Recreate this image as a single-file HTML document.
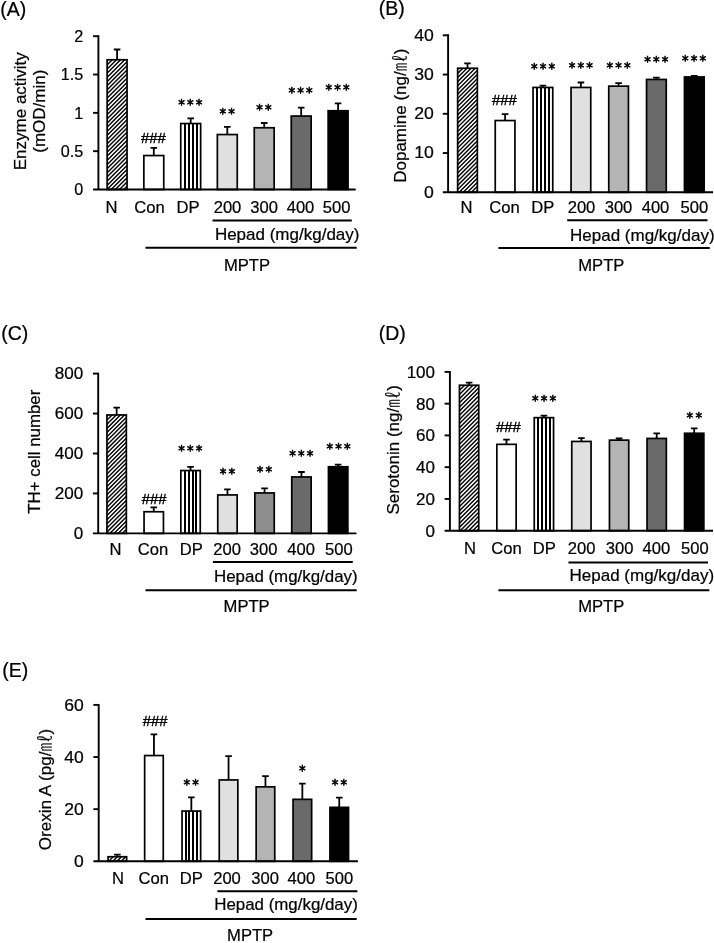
<!DOCTYPE html>
<html lang="en"><head><meta charset="utf-8"><title>Figure</title>
<style>
html,body{margin:0;padding:0;background:#fff;}
svg{display:block;will-change:transform;}
text{font-family:"Liberation Sans","Noto Sans CJK KR",sans-serif;fill:#000;stroke:#000;stroke-width:0.22px;}
tspan.ml{font-weight:300;}
text.hs{stroke-width:0.4px;}
text.st{font-family:"DejaVu Sans","Liberation Sans",sans-serif;stroke-width:0.6px;}
</style></head>
<body>
<svg width="714" height="943" viewBox="0 0 714 943">
<rect width="714" height="943" fill="#fff"/>
<g>
<path d="M117.10 59.90V49.50M113.80 49.50H120.40" stroke="#000" stroke-width="1.8" fill="none"/>
<clipPath id="c1"><rect x="107.15" y="59.75" width="19.90" height="129.75"/></clipPath><g clip-path="url(#c1)"><rect x="107.15" y="59.75" width="19.90" height="129.75" fill="#fff"/><path d="M106.15 61.75L109.15 58.75M106.15 65.90L113.30 58.75M106.15 70.05L117.45 58.75M106.15 74.20L121.60 58.75M106.15 78.35L125.75 58.75M106.15 82.50L129.90 58.75M106.15 86.65L134.05 58.75M106.15 90.80L138.20 58.75M106.15 94.95L142.35 58.75M106.15 99.10L146.50 58.75M106.15 103.25L150.65 58.75M106.15 107.40L154.80 58.75M106.15 111.55L158.95 58.75M106.15 115.70L163.10 58.75M106.15 119.85L167.25 58.75M106.15 124.00L171.40 58.75M106.15 128.15L175.55 58.75M106.15 132.30L179.70 58.75M106.15 136.45L183.85 58.75M106.15 140.60L188.00 58.75M106.15 144.75L192.15 58.75M106.15 148.90L196.30 58.75M106.15 153.05L200.45 58.75M106.15 157.20L204.60 58.75M106.15 161.35L208.75 58.75M106.15 165.50L212.90 58.75M106.15 169.65L217.05 58.75M106.15 173.80L221.20 58.75M106.15 177.95L225.35 58.75M106.15 182.10L229.50 58.75M106.15 186.25L233.65 58.75M106.15 190.40L237.80 58.75M106.15 194.55L241.95 58.75M106.15 198.70L246.10 58.75M106.15 202.85L250.25 58.75M106.15 207.00L254.40 58.75M106.15 211.15L258.55 58.75" stroke="#000" stroke-width="1.42" fill="none"/></g>
<rect x="107.15" y="59.75" width="19.90" height="129.75" fill="none" stroke="#000" stroke-width="1.7"/>
<path d="M153.80 155.70V147.90M150.50 147.90H157.10" stroke="#000" stroke-width="1.8" fill="none"/>
<rect x="143.85" y="155.55" width="19.90" height="33.95" fill="#ffffff" stroke="#000" stroke-width="1.7"/>
<path d="M190.70 123.70V118.40M187.40 118.40H194.00" stroke="#000" stroke-width="1.8" fill="none"/>
<clipPath id="c2"><rect x="180.75" y="123.55" width="19.90" height="65.95"/></clipPath><g clip-path="url(#c2)"><rect x="180.75" y="123.55" width="19.90" height="65.95" fill="#fff"/><path d="M184 123.55h2.0v65.95h-2.0zM188 123.55h2.0v65.95h-2.0zM192 123.55h2.0v65.95h-2.0zM196 123.55h2.0v65.95h-2.0z" fill="#000"/></g>
<rect x="180.75" y="123.55" width="19.90" height="65.95" fill="none" stroke="#000" stroke-width="1.7"/>
<path d="M227.30 134.70V126.90M224.00 126.90H230.60" stroke="#000" stroke-width="1.8" fill="none"/>
<rect x="217.35" y="134.55" width="19.90" height="54.95" fill="#e0e0e0" stroke="#000" stroke-width="1.7"/>
<path d="M264.20 127.90V123.00M260.90 123.00H267.50" stroke="#000" stroke-width="1.8" fill="none"/>
<rect x="254.25" y="127.75" width="19.90" height="61.75" fill="#b4b4b4" stroke="#000" stroke-width="1.7"/>
<path d="M301.20 116.20V107.70M297.90 107.70H304.50" stroke="#000" stroke-width="1.8" fill="none"/>
<rect x="291.25" y="116.05" width="19.90" height="73.45" fill="#6a6a6a" stroke="#000" stroke-width="1.7"/>
<path d="M338.10 110.90V103.30M334.80 103.30H341.40" stroke="#000" stroke-width="1.8" fill="none"/>
<rect x="328.15" y="110.75" width="19.90" height="78.75" fill="#000000" stroke="#000" stroke-width="1.7"/>
<path d="M98.40 35.25V189.50M93.10 189.50H355.70" stroke="#000" stroke-width="1.9" fill="none"/>
<text transform="translate(83.30 195.20) scale(0.94 1)" font-size="17.2" text-anchor="end">0</text>
<path d="M93.10 151.18H98.40" stroke="#000" stroke-width="1.9"/>
<text transform="translate(83.30 156.88) scale(0.94 1)" font-size="17.2" text-anchor="end">0.5</text>
<path d="M93.10 112.85H98.40" stroke="#000" stroke-width="1.9"/>
<text transform="translate(83.30 118.55) scale(0.94 1)" font-size="17.2" text-anchor="end">1</text>
<path d="M93.10 74.52H98.40" stroke="#000" stroke-width="1.9"/>
<text transform="translate(83.30 80.22) scale(0.94 1)" font-size="17.2" text-anchor="end">1.5</text>
<path d="M93.10 36.20H98.40" stroke="#000" stroke-width="1.9"/>
<text transform="translate(83.30 41.90) scale(0.94 1)" font-size="17.2" text-anchor="end">2</text>
<text transform="translate(25.50 111.20) rotate(-90)" font-size="17.0" text-anchor="middle">Enzyme activity</text>
<text transform="translate(44.70 111.20) rotate(-90)" font-size="17.0" text-anchor="middle">(mOD/min)</text>
<text x="153.30" y="143.00" class="hs" font-size="15" text-anchor="middle" textLength="24.8" lengthAdjust="spacingAndGlyphs">###</text>
<text class="st" x="178.25 187.00 195.75" y="109.08" font-size="13.2">***</text>
<text class="st" x="219.53 228.28" y="118.28" font-size="13.2">**</text>
<text class="st" x="256.32 265.07" y="113.58" font-size="13.2">**</text>
<text class="st" x="288.55 297.30 306.05" y="97.38" font-size="13.2">***</text>
<text class="st" x="325.55 334.30 343.05" y="94.08" font-size="13.2">***</text>
<text x="111.60" y="212.80" font-size="16.6" text-anchor="middle">N</text>
<text x="149.60" y="212.80" font-size="16.6" text-anchor="middle">Con</text>
<text x="188.00" y="212.80" font-size="16.6" text-anchor="middle">DP</text>
<text x="227.50" y="212.80" font-size="16.6" text-anchor="middle">200</text>
<text x="264.10" y="212.80" font-size="16.6" text-anchor="middle">300</text>
<text x="300.50" y="212.80" font-size="16.6" text-anchor="middle">400</text>
<text x="336.60" y="212.80" font-size="16.6" text-anchor="middle">500</text>
<path d="M212.50 220.40H351.80" stroke="#000" stroke-width="2"/>
<text x="214.90" y="240.00" font-size="17.0">Hepad (mg/kg/day)</text>
<path d="M145.50 247.80H356.70" stroke="#000" stroke-width="2"/>
<text x="223.90" y="271.20" font-size="16.6">MPTP</text>
<text x="0.20" y="15.60" font-size="19.5">(A)</text>
</g>
<g>
<path d="M467.50 68.40V63.30M464.20 63.30H470.80" stroke="#000" stroke-width="1.8" fill="none"/>
<clipPath id="c3"><rect x="457.65" y="68.25" width="19.70" height="124.05"/></clipPath><g clip-path="url(#c3)"><rect x="457.65" y="68.25" width="19.70" height="124.05" fill="#fff"/><path d="M456.65 70.25L459.65 67.25M456.65 74.40L463.80 67.25M456.65 78.55L467.95 67.25M456.65 82.70L472.10 67.25M456.65 86.85L476.25 67.25M456.65 91.00L480.40 67.25M456.65 95.15L484.55 67.25M456.65 99.30L488.70 67.25M456.65 103.45L492.85 67.25M456.65 107.60L497.00 67.25M456.65 111.75L501.15 67.25M456.65 115.90L505.30 67.25M456.65 120.05L509.45 67.25M456.65 124.20L513.60 67.25M456.65 128.35L517.75 67.25M456.65 132.50L521.90 67.25M456.65 136.65L526.05 67.25M456.65 140.80L530.20 67.25M456.65 144.95L534.35 67.25M456.65 149.10L538.50 67.25M456.65 153.25L542.65 67.25M456.65 157.40L546.80 67.25M456.65 161.55L550.95 67.25M456.65 165.70L555.10 67.25M456.65 169.85L559.25 67.25M456.65 174.00L563.40 67.25M456.65 178.15L567.55 67.25M456.65 182.30L571.70 67.25M456.65 186.45L575.85 67.25M456.65 190.60L580.00 67.25M456.65 194.75L584.15 67.25M456.65 198.90L588.30 67.25M456.65 203.05L592.45 67.25M456.65 207.20L596.60 67.25M456.65 211.35L600.75 67.25M456.65 215.50L604.90 67.25" stroke="#000" stroke-width="1.42" fill="none"/></g>
<rect x="457.65" y="68.25" width="19.70" height="124.05" fill="none" stroke="#000" stroke-width="1.7"/>
<path d="M505.10 120.70V114.10M501.80 114.10H508.40" stroke="#000" stroke-width="1.8" fill="none"/>
<rect x="495.25" y="120.55" width="19.70" height="71.75" fill="#ffffff" stroke="#000" stroke-width="1.7"/>
<path d="M542.90 87.60V85.70M539.60 85.70H546.20" stroke="#000" stroke-width="1.8" fill="none"/>
<clipPath id="c4"><rect x="533.05" y="87.45" width="19.70" height="104.85"/></clipPath><g clip-path="url(#c4)"><rect x="533.05" y="87.45" width="19.70" height="104.85" fill="#fff"/><path d="M536 87.45h2.0v104.85h-2.0zM540 87.45h2.0v104.85h-2.0zM544 87.45h2.0v104.85h-2.0zM548 87.45h2.0v104.85h-2.0z" fill="#000"/></g>
<rect x="533.05" y="87.45" width="19.70" height="104.85" fill="none" stroke="#000" stroke-width="1.7"/>
<path d="M580.90 87.60V82.50M577.60 82.50H584.20" stroke="#000" stroke-width="1.8" fill="none"/>
<rect x="571.05" y="87.45" width="19.70" height="104.85" fill="#e0e0e0" stroke="#000" stroke-width="1.7"/>
<path d="M618.60 86.30V83.20M615.30 83.20H621.90" stroke="#000" stroke-width="1.8" fill="none"/>
<rect x="608.75" y="86.15" width="19.70" height="106.15" fill="#b4b4b4" stroke="#000" stroke-width="1.7"/>
<path d="M656.40 79.60V77.70M653.10 77.70H659.70" stroke="#000" stroke-width="1.8" fill="none"/>
<rect x="646.55" y="79.45" width="19.70" height="112.85" fill="#6a6a6a" stroke="#000" stroke-width="1.7"/>
<path d="M694.30 77.10V75.80M691.00 75.80H697.60" stroke="#000" stroke-width="1.8" fill="none"/>
<rect x="684.45" y="76.95" width="19.70" height="115.35" fill="#000000" stroke="#000" stroke-width="1.7"/>
<path d="M448.10 34.35V192.30M442.80 192.30H713.00" stroke="#000" stroke-width="1.9" fill="none"/>
<text transform="translate(433.90 197.60) scale(1.03 1)" font-size="17.1" text-anchor="end">0</text>
<path d="M442.80 153.05H448.10" stroke="#000" stroke-width="1.9"/>
<text transform="translate(433.90 158.35) scale(1.03 1)" font-size="17.1" text-anchor="end">10</text>
<path d="M442.80 113.80H448.10" stroke="#000" stroke-width="1.9"/>
<text transform="translate(433.90 119.10) scale(1.03 1)" font-size="17.1" text-anchor="end">20</text>
<path d="M442.80 74.55H448.10" stroke="#000" stroke-width="1.9"/>
<text transform="translate(433.90 79.85) scale(1.03 1)" font-size="17.1" text-anchor="end">30</text>
<path d="M442.80 35.30H448.10" stroke="#000" stroke-width="1.9"/>
<text transform="translate(433.90 40.60) scale(1.03 1)" font-size="17.1" text-anchor="end">40</text>
<text transform="translate(405.70 115.70) rotate(-90)" font-size="17.0" text-anchor="middle">Dopamine (ng/<tspan class="ml">㎖</tspan>)</text>
<text x="504.50" y="104.90" class="hs" font-size="15" text-anchor="middle" textLength="24.8" lengthAdjust="spacingAndGlyphs">###</text>
<text class="st" x="530.95 539.70 548.45" y="73.28" font-size="13.2">***</text>
<text class="st" x="568.65 577.40 586.15" y="71.98" font-size="13.2">***</text>
<text class="st" x="606.45 615.20 623.95" y="71.98" font-size="13.2">***</text>
<text class="st" x="644.25 653.00 661.75" y="65.78" font-size="13.2">***</text>
<text class="st" x="681.95 690.70 699.45" y="64.58" font-size="13.2">***</text>
<text x="466.60" y="213.20" font-size="16.6" text-anchor="middle">N</text>
<text x="504.50" y="213.20" font-size="16.6" text-anchor="middle">Con</text>
<text x="542.80" y="213.20" font-size="16.6" text-anchor="middle">DP</text>
<text x="581.50" y="213.20" font-size="16.6" text-anchor="middle">200</text>
<text x="618.50" y="213.20" font-size="16.6" text-anchor="middle">300</text>
<text x="655.50" y="213.20" font-size="16.6" text-anchor="middle">400</text>
<text x="694.30" y="213.20" font-size="16.6" text-anchor="middle">500</text>
<path d="M567.20 220.20H707.50" stroke="#000" stroke-width="2"/>
<text x="570.00" y="240.50" font-size="17.0">Hepad (mg/kg/day)</text>
<path d="M498.40 248.10H709.80" stroke="#000" stroke-width="2"/>
<text x="578.30" y="271.20" font-size="16.6">MPTP</text>
<text x="378.80" y="15.40" font-size="19.5">(B)</text>
</g>
<g>
<path d="M116.65 415.10V407.60M113.35 407.60H119.95" stroke="#000" stroke-width="1.8" fill="none"/>
<clipPath id="c5"><rect x="106.95" y="414.95" width="19.40" height="118.45"/></clipPath><g clip-path="url(#c5)"><rect x="106.95" y="414.95" width="19.40" height="118.45" fill="#fff"/><path d="M105.95 416.95L108.95 413.95M105.95 421.10L113.10 413.95M105.95 425.25L117.25 413.95M105.95 429.40L121.40 413.95M105.95 433.55L125.55 413.95M105.95 437.70L129.70 413.95M105.95 441.85L133.85 413.95M105.95 446.00L138.00 413.95M105.95 450.15L142.15 413.95M105.95 454.30L146.30 413.95M105.95 458.45L150.45 413.95M105.95 462.60L154.60 413.95M105.95 466.75L158.75 413.95M105.95 470.90L162.90 413.95M105.95 475.05L167.05 413.95M105.95 479.20L171.20 413.95M105.95 483.35L175.35 413.95M105.95 487.50L179.50 413.95M105.95 491.65L183.65 413.95M105.95 495.80L187.80 413.95M105.95 499.95L191.95 413.95M105.95 504.10L196.10 413.95M105.95 508.25L200.25 413.95M105.95 512.40L204.40 413.95M105.95 516.55L208.55 413.95M105.95 520.70L212.70 413.95M105.95 524.85L216.85 413.95M105.95 529.00L221.00 413.95M105.95 533.15L225.15 413.95M105.95 537.30L229.30 413.95M105.95 541.45L233.45 413.95M105.95 545.60L237.60 413.95M105.95 549.75L241.75 413.95M105.95 553.90L245.90 413.95" stroke="#000" stroke-width="1.42" fill="none"/></g>
<rect x="106.95" y="414.95" width="19.40" height="118.45" fill="none" stroke="#000" stroke-width="1.7"/>
<path d="M153.75 511.90V507.30M150.45 507.30H157.05" stroke="#000" stroke-width="1.8" fill="none"/>
<rect x="144.05" y="511.75" width="19.40" height="21.65" fill="#ffffff" stroke="#000" stroke-width="1.7"/>
<path d="M190.55 470.70V466.80M187.25 466.80H193.85" stroke="#000" stroke-width="1.8" fill="none"/>
<clipPath id="c6"><rect x="180.85" y="470.55" width="19.40" height="62.85"/></clipPath><g clip-path="url(#c6)"><rect x="180.85" y="470.55" width="19.40" height="62.85" fill="#fff"/><path d="M184 470.55h2.0v62.85h-2.0zM188 470.55h2.0v62.85h-2.0zM192 470.55h2.0v62.85h-2.0zM195 470.55h2.0v62.85h-2.0z" fill="#000"/></g>
<rect x="180.85" y="470.55" width="19.40" height="62.85" fill="none" stroke="#000" stroke-width="1.7"/>
<path d="M227.45 495.10V489.30M224.15 489.30H230.75" stroke="#000" stroke-width="1.8" fill="none"/>
<rect x="217.75" y="494.95" width="19.40" height="38.45" fill="#e0e0e0" stroke="#000" stroke-width="1.7"/>
<path d="M264.55 493.10V488.30M261.25 488.30H267.85" stroke="#000" stroke-width="1.8" fill="none"/>
<rect x="254.85" y="492.95" width="19.40" height="40.45" fill="#8e8e8e" stroke="#000" stroke-width="1.7"/>
<path d="M301.45 477.10V472.00M298.15 472.00H304.75" stroke="#000" stroke-width="1.8" fill="none"/>
<rect x="291.75" y="476.95" width="19.40" height="56.45" fill="#6a6a6a" stroke="#000" stroke-width="1.7"/>
<path d="M338.15 466.90V464.60M334.85 464.60H341.45" stroke="#000" stroke-width="1.8" fill="none"/>
<rect x="328.45" y="466.75" width="19.40" height="66.65" fill="#000000" stroke="#000" stroke-width="1.7"/>
<path d="M98.20 372.65V533.40M92.90 533.40H356.50" stroke="#000" stroke-width="1.9" fill="none"/>
<text x="83.20" y="539.20" font-size="17.1" text-anchor="end">0</text>
<path d="M92.90 493.45H98.20" stroke="#000" stroke-width="1.9"/>
<text x="83.20" y="499.25" font-size="17.1" text-anchor="end">200</text>
<path d="M92.90 453.50H98.20" stroke="#000" stroke-width="1.9"/>
<text x="83.20" y="459.30" font-size="17.1" text-anchor="end">400</text>
<path d="M92.90 413.55H98.20" stroke="#000" stroke-width="1.9"/>
<text x="83.20" y="419.35" font-size="17.1" text-anchor="end">600</text>
<path d="M92.90 373.60H98.20" stroke="#000" stroke-width="1.9"/>
<text x="83.20" y="379.40" font-size="17.1" text-anchor="end">800</text>
<text transform="translate(40.30 451.70) rotate(-90)" font-size="16.85" text-anchor="middle">TH+ cell number</text>
<text x="154.20" y="504.00" class="hs" font-size="15" text-anchor="middle" textLength="24.8" lengthAdjust="spacingAndGlyphs">###</text>
<text class="st" x="178.25 187.00 195.75" y="455.38" font-size="13.2">***</text>
<text class="st" x="219.63 228.38" y="477.78" font-size="13.2">**</text>
<text class="st" x="256.82 265.57" y="475.78" font-size="13.2">**</text>
<text class="st" x="289.15 297.90 306.65" y="460.28" font-size="13.2">***</text>
<text class="st" x="326.45 335.20 343.95" y="453.38" font-size="13.2">***</text>
<text x="115.50" y="554.50" font-size="16.6" text-anchor="middle">N</text>
<text x="153.00" y="554.50" font-size="16.6" text-anchor="middle">Con</text>
<text x="191.40" y="554.50" font-size="16.6" text-anchor="middle">DP</text>
<text x="227.10" y="554.50" font-size="16.6" text-anchor="middle">200</text>
<text x="263.70" y="554.50" font-size="16.6" text-anchor="middle">300</text>
<text x="301.10" y="554.50" font-size="16.6" text-anchor="middle">400</text>
<text x="338.80" y="554.50" font-size="16.6" text-anchor="middle">500</text>
<path d="M212.90 562.10H352.80" stroke="#000" stroke-width="2"/>
<text x="214.00" y="581.70" font-size="16.9">Hepad (mg/kg/day)</text>
<path d="M145.50 590.20H356.70" stroke="#000" stroke-width="2"/>
<text x="223.60" y="612.10" font-size="16.6">MPTP</text>
<text x="1.20" y="339.70" font-size="19.5">(C)</text>
</g>
<g>
<path d="M469.10 385.40V382.60M465.80 382.60H472.40" stroke="#000" stroke-width="1.8" fill="none"/>
<clipPath id="c7"><rect x="459.45" y="385.25" width="19.30" height="145.45"/></clipPath><g clip-path="url(#c7)"><rect x="459.45" y="385.25" width="19.30" height="145.45" fill="#fff"/><path d="M458.45 387.25L461.45 384.25M458.45 391.40L465.60 384.25M458.45 395.55L469.75 384.25M458.45 399.70L473.90 384.25M458.45 403.85L478.05 384.25M458.45 408.00L482.20 384.25M458.45 412.15L486.35 384.25M458.45 416.30L490.50 384.25M458.45 420.45L494.65 384.25M458.45 424.60L498.80 384.25M458.45 428.75L502.95 384.25M458.45 432.90L507.10 384.25M458.45 437.05L511.25 384.25M458.45 441.20L515.40 384.25M458.45 445.35L519.55 384.25M458.45 449.50L523.70 384.25M458.45 453.65L527.85 384.25M458.45 457.80L532.00 384.25M458.45 461.95L536.15 384.25M458.45 466.10L540.30 384.25M458.45 470.25L544.45 384.25M458.45 474.40L548.60 384.25M458.45 478.55L552.75 384.25M458.45 482.70L556.90 384.25M458.45 486.85L561.05 384.25M458.45 491.00L565.20 384.25M458.45 495.15L569.35 384.25M458.45 499.30L573.50 384.25M458.45 503.45L577.65 384.25M458.45 507.60L581.80 384.25M458.45 511.75L585.95 384.25M458.45 515.90L590.10 384.25M458.45 520.05L594.25 384.25M458.45 524.20L598.40 384.25M458.45 528.35L602.55 384.25M458.45 532.50L606.70 384.25M458.45 536.65L610.85 384.25M458.45 540.80L615.00 384.25M458.45 544.95L619.15 384.25M458.45 549.10L623.30 384.25M458.45 553.25L627.45 384.25" stroke="#000" stroke-width="1.42" fill="none"/></g>
<rect x="459.45" y="385.25" width="19.30" height="145.45" fill="none" stroke="#000" stroke-width="1.7"/>
<path d="M506.50 444.50V439.60M503.20 439.60H509.80" stroke="#000" stroke-width="1.8" fill="none"/>
<rect x="496.85" y="444.35" width="19.30" height="86.35" fill="#ffffff" stroke="#000" stroke-width="1.7"/>
<path d="M543.90 417.80V415.70M540.60 415.70H547.20" stroke="#000" stroke-width="1.8" fill="none"/>
<clipPath id="c8"><rect x="534.25" y="417.65" width="19.30" height="113.05"/></clipPath><g clip-path="url(#c8)"><rect x="534.25" y="417.65" width="19.30" height="113.05" fill="#fff"/><path d="M537 417.65h2.0v113.05h-2.0zM541 417.65h2.0v113.05h-2.0zM545 417.65h2.0v113.05h-2.0zM549 417.65h2.0v113.05h-2.0z" fill="#000"/></g>
<rect x="534.25" y="417.65" width="19.30" height="113.05" fill="none" stroke="#000" stroke-width="1.7"/>
<path d="M581.40 441.60V438.20M578.10 438.20H584.70" stroke="#000" stroke-width="1.8" fill="none"/>
<rect x="571.75" y="441.45" width="19.30" height="89.25" fill="#e0e0e0" stroke="#000" stroke-width="1.7"/>
<path d="M619.10 440.30V438.50M615.80 438.50H622.40" stroke="#000" stroke-width="1.8" fill="none"/>
<rect x="609.45" y="440.15" width="19.30" height="90.55" fill="#b4b4b4" stroke="#000" stroke-width="1.7"/>
<path d="M656.70 438.60V433.30M653.40 433.30H660.00" stroke="#000" stroke-width="1.8" fill="none"/>
<rect x="647.05" y="438.45" width="19.30" height="92.25" fill="#6a6a6a" stroke="#000" stroke-width="1.7"/>
<path d="M694.20 433.40V428.30M690.90 428.30H697.50" stroke="#000" stroke-width="1.8" fill="none"/>
<rect x="684.55" y="433.25" width="19.30" height="97.45" fill="#000000" stroke="#000" stroke-width="1.7"/>
<path d="M449.90 370.95V530.70M444.60 530.70H713.00" stroke="#000" stroke-width="1.9" fill="none"/>
<text x="435.00" y="536.60" font-size="17.0" text-anchor="end">0</text>
<path d="M444.60 498.94H449.90" stroke="#000" stroke-width="1.9"/>
<text x="435.00" y="504.84" font-size="17.0" text-anchor="end">20</text>
<path d="M444.60 467.18H449.90" stroke="#000" stroke-width="1.9"/>
<text x="435.00" y="473.08" font-size="17.0" text-anchor="end">40</text>
<path d="M444.60 435.42H449.90" stroke="#000" stroke-width="1.9"/>
<text x="435.00" y="441.32" font-size="17.0" text-anchor="end">60</text>
<path d="M444.60 403.66H449.90" stroke="#000" stroke-width="1.9"/>
<text x="435.00" y="409.56" font-size="17.0" text-anchor="end">80</text>
<path d="M444.60 371.90H449.90" stroke="#000" stroke-width="1.9"/>
<text x="435.00" y="377.80" font-size="17.0" text-anchor="end">100</text>
<text transform="translate(399.00 449.80) rotate(-90)" font-size="17.0" text-anchor="middle">Serotonin (ng/<tspan class="ml">㎖</tspan>)</text>
<text x="508.50" y="431.70" class="hs" font-size="15" text-anchor="middle" textLength="24.8" lengthAdjust="spacingAndGlyphs">###</text>
<text class="st" x="531.95 540.70 549.45" y="405.38" font-size="13.2">***</text>
<text class="st" x="686.62 695.38" y="421.68" font-size="13.2">**</text>
<text x="470.10" y="554.20" font-size="16.6" text-anchor="middle">N</text>
<text x="506.40" y="554.20" font-size="16.6" text-anchor="middle">Con</text>
<text x="544.20" y="554.20" font-size="16.6" text-anchor="middle">DP</text>
<text x="581.70" y="554.20" font-size="16.6" text-anchor="middle">200</text>
<text x="619.70" y="554.20" font-size="16.6" text-anchor="middle">300</text>
<text x="656.30" y="554.20" font-size="16.6" text-anchor="middle">400</text>
<text x="694.80" y="554.20" font-size="16.6" text-anchor="middle">500</text>
<path d="M568.40 562.50H708.00" stroke="#000" stroke-width="2"/>
<text x="569.50" y="581.40" font-size="17.0">Hepad (mg/kg/day)</text>
<path d="M498.40 590.20H709.30" stroke="#000" stroke-width="2"/>
<text x="578.20" y="612.10" font-size="16.6">MPTP</text>
<text x="378.80" y="339.50" font-size="19.5">(D)</text>
</g>
<g>
<path d="M117.35 856.90V854.70M114.05 854.70H120.65" stroke="#000" stroke-width="1.8" fill="none"/>
<clipPath id="c9"><rect x="108.05" y="856.75" width="18.60" height="4.55"/></clipPath><g clip-path="url(#c9)"><rect x="108.05" y="856.75" width="18.60" height="4.55" fill="#fff"/><path d="M107.05 858.75L110.05 855.75M107.05 862.90L114.20 855.75M107.05 867.05L118.35 855.75M107.05 871.20L122.50 855.75M107.05 875.35L126.65 855.75M107.05 879.50L130.80 855.75M107.05 883.65L134.95 855.75" stroke="#000" stroke-width="1.42" fill="none"/></g>
<rect x="108.05" y="856.75" width="18.60" height="4.55" fill="none" stroke="#000" stroke-width="1.7"/>
<path d="M153.95 755.70V734.30M150.65 734.30H157.25" stroke="#000" stroke-width="1.8" fill="none"/>
<rect x="144.65" y="755.55" width="18.60" height="105.75" fill="#ffffff" stroke="#000" stroke-width="1.7"/>
<path d="M191.35 811.20V797.30M188.05 797.30H194.65" stroke="#000" stroke-width="1.8" fill="none"/>
<clipPath id="c10"><rect x="182.05" y="811.05" width="18.60" height="50.25"/></clipPath><g clip-path="url(#c10)"><rect x="182.05" y="811.05" width="18.60" height="50.25" fill="#fff"/><path d="M185 811.05h2.0v50.25h-2.0zM188 811.05h2.0v50.25h-2.0zM192 811.05h2.0v50.25h-2.0zM196 811.05h2.0v50.25h-2.0z" fill="#000"/></g>
<rect x="182.05" y="811.05" width="18.60" height="50.25" fill="none" stroke="#000" stroke-width="1.7"/>
<path d="M228.55 780.10V756.20M225.25 756.20H231.85" stroke="#000" stroke-width="1.8" fill="none"/>
<rect x="219.25" y="779.95" width="18.60" height="81.35" fill="#e0e0e0" stroke="#000" stroke-width="1.7"/>
<path d="M265.45 787.00V776.10M262.15 776.10H268.75" stroke="#000" stroke-width="1.8" fill="none"/>
<rect x="256.15" y="786.85" width="18.60" height="74.45" fill="#b4b4b4" stroke="#000" stroke-width="1.7"/>
<path d="M302.35 799.50V783.60M299.05 783.60H305.65" stroke="#000" stroke-width="1.8" fill="none"/>
<rect x="293.05" y="799.35" width="18.60" height="61.95" fill="#6a6a6a" stroke="#000" stroke-width="1.7"/>
<path d="M339.25 807.50V797.60M335.95 797.60H342.55" stroke="#000" stroke-width="1.8" fill="none"/>
<rect x="329.95" y="807.35" width="18.60" height="53.95" fill="#000000" stroke="#000" stroke-width="1.7"/>
<path d="M98.70 703.95V861.30M93.40 861.30H357.90" stroke="#000" stroke-width="1.9" fill="none"/>
<text transform="translate(83.80 867.00) scale(1.04 1)" font-size="16.9" text-anchor="end">0</text>
<path d="M93.40 809.17H98.70" stroke="#000" stroke-width="1.9"/>
<text transform="translate(83.80 814.87) scale(1.04 1)" font-size="16.9" text-anchor="end">20</text>
<path d="M93.40 757.03H98.70" stroke="#000" stroke-width="1.9"/>
<text transform="translate(83.80 762.73) scale(1.04 1)" font-size="16.9" text-anchor="end">40</text>
<path d="M93.40 704.90H98.70" stroke="#000" stroke-width="1.9"/>
<text transform="translate(83.80 710.60) scale(1.04 1)" font-size="16.9" text-anchor="end">60</text>
<text transform="translate(51.30 789.50) rotate(-90)" font-size="17.1" text-anchor="middle">Orexin A (pg/<tspan class="ml">㎖</tspan>)</text>
<text x="155.20" y="726.00" class="hs" font-size="15" text-anchor="middle" textLength="24.8" lengthAdjust="spacingAndGlyphs">###</text>
<text class="st" x="183.53 192.28" y="788.78" font-size="13.2">**</text>
<text class="st" x="298.90" y="775.38" font-size="13.2">*</text>
<text class="st" x="331.82 340.57" y="788.78" font-size="13.2">**</text>
<text x="118.00" y="883.80" font-size="16.6" text-anchor="middle">N</text>
<text x="153.80" y="883.80" font-size="16.6" text-anchor="middle">Con</text>
<text x="191.40" y="883.80" font-size="16.6" text-anchor="middle">DP</text>
<text x="227.00" y="883.80" font-size="16.6" text-anchor="middle">200</text>
<text x="265.20" y="883.80" font-size="16.6" text-anchor="middle">300</text>
<text x="301.40" y="883.80" font-size="16.6" text-anchor="middle">400</text>
<text x="339.40" y="883.80" font-size="16.6" text-anchor="middle">500</text>
<path d="M217.40 891.30H357.40" stroke="#000" stroke-width="2"/>
<text x="214.20" y="910.40" font-size="16.9">Hepad (mg/kg/day)</text>
<path d="M145.50 919.00H356.70" stroke="#000" stroke-width="2"/>
<text x="227.10" y="940.60" font-size="16.6">MPTP</text>
<text x="2.20" y="676.50" font-size="19.5">(E)</text>
</g>
</svg>
</body></html>
